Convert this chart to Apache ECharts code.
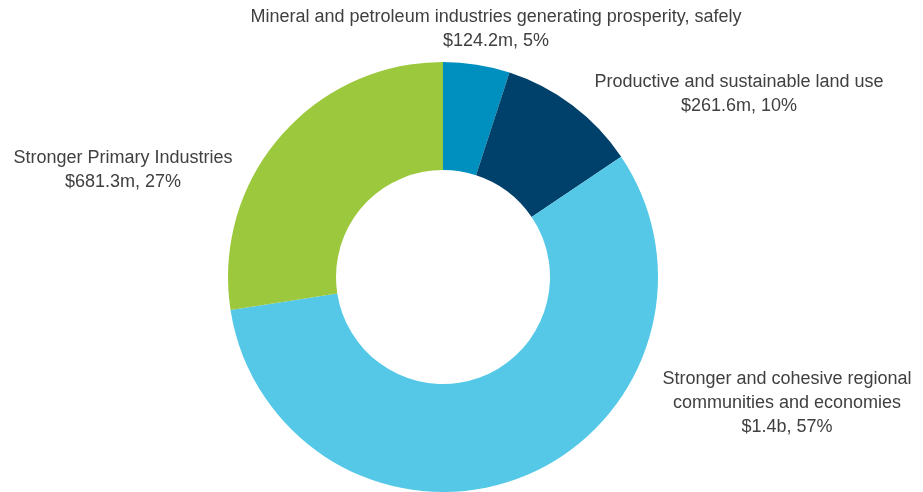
<!DOCTYPE html>
<html>
<head>
<meta charset="utf-8">
<script src="https://cdn.jsdelivr.net/npm/echarts@6/dist/echarts.min.js"></script>
<style>html,body{margin:0;padding:0;background:#fff;}#c{width:923px;height:492px;}</style>
</head>
<body>
<div id="c"></div>
<script>
const categories = [
  'Mineral and petroleum industries generating prosperity, safely',
  'Productive and sustainable land use',
  'Stronger and cohesive regional\ncommunities and economies',
  'Stronger Primary Industries'
];
const values = [124.2, 261.6, 1415, 681.3];
const valueLabels = ['$124.2m', '$261.6m', '$1.4b', '$681.3m'];
const percentLabels = ['5%', '10%', '57%', '27%'];
const colors = ['#0090BF', '#00416B', '#55C8E8', '#9BC83C'];
const labelPos = [[496, 29], [739, 94], [787, 403], [123, 170]];

const chart = echarts.init(document.getElementById('c'));
chart.setOption({
  animation: false,
  series: [{
    type: 'pie',
    center: [443, 277],
    radius: [107, 215],
    startAngle: 90,
    clockwise: true,
    silent: true,
    labelLine: { show: false },
    label: {
      show: true,
      formatter: p => categories[p.dataIndex] + '\n' + valueLabels[p.dataIndex] + ', ' + percentLabels[p.dataIndex],
      fontFamily: 'Liberation Sans, Arial, sans-serif',
      fontSize: 18,
      lineHeight: 24,
      color: '#404040',
      align: 'center',
      overflow: 'none',
      width: 700
    },
    labelLayout: p => ({
      x: labelPos[p.dataIndex][0],
      y: labelPos[p.dataIndex][1],
      align: 'center',
      verticalAlign: 'middle'
    }),
    data: values.map((v, i) => ({ value: v, name: categories[i], itemStyle: { color: colors[i] } }))
  }]
});
</script>
</body>
</html>
